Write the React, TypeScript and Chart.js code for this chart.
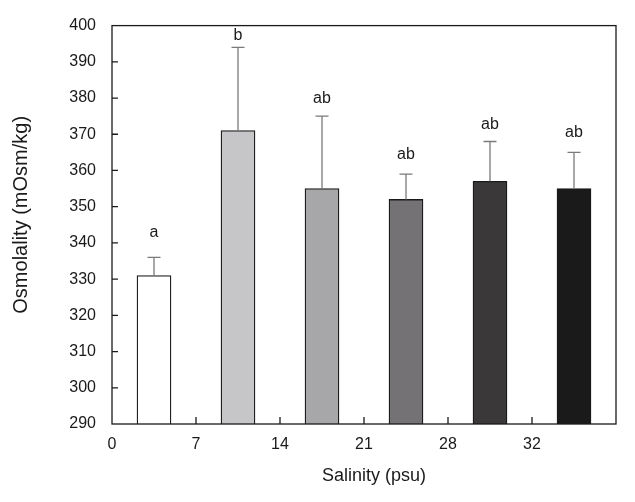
import React, { useEffect, useRef } from "react";
import { Chart, registerables } from "chart.js";

Chart.register(...registerables);

const salinityLabels = ["0", "7", "14", "21", "28", "32"];
const meanOsmolality = [331, 371, 355, 352, 357, 355];
const errorValues = [5, 23, 20, 7, 11, 10];
const letters = ["a", "b", "ab", "ab", "ab", "ab"];
const letterLevels = [341.5, 396, 378.6, 363.1, 371.4, 369.2];
const barColors = ["#ffffff", "#c6c6c8", "#a7a6a9", "#747275", "#3a3839", "#1a1a1a"];

const FONT = "'Liberation Sans', Arial, sans-serif";
const INK = "#1a1a1a";

const decorPlugin = {
  id: "decor",
  afterDatasetsDraw(chart: any) {
    const ctx = chart.ctx;
    const y = chart.scales.y;
    const meta = chart.getDatasetMeta(0);
    ctx.save();
    ctx.strokeStyle = "#7a7a7a";
    ctx.lineWidth = 1.3;
    meta.data.forEach((el: any, i: number) => {
      const top = y.getPixelForValue(meanOsmolality[i] + errorValues[i]);
      ctx.beginPath();
      ctx.moveTo(el.x, el.y);
      ctx.lineTo(el.x, top);
      ctx.moveTo(el.x - 6.5, top);
      ctx.lineTo(el.x + 6.5, top);
      ctx.stroke();
    });
    ctx.fillStyle = INK;
    ctx.font = `16px ${FONT}`;
    ctx.textAlign = "center";
    ctx.textBaseline = "alphabetic";
    meta.data.forEach((el: any, i: number) => {
      ctx.fillText(letters[i], el.x, y.getPixelForValue(letterLevels[i]));
    });
    ctx.restore();
  },
  afterDraw(chart: any) {
    const ctx = chart.ctx;
    const { left, right, top, bottom } = chart.chartArea;
    const xs = chart.scales.x;
    const ys = chart.scales.y;
    ctx.save();
    ctx.strokeStyle = INK;
    ctx.lineWidth = 1.3;
    ctx.strokeRect(left, top, right - left, bottom - top);
    ctx.beginPath();
    ys.ticks.forEach((t: any) => {
      if (t.value <= ys.min || t.value >= ys.max) return;
      const p = ys.getPixelForValue(t.value);
      ctx.moveTo(left, p);
      ctx.lineTo(left + 6, p);
    });
    xs.ticks.forEach((t: any) => {
      if (t.value <= xs.min || t.value >= xs.max) return;
      const p = xs.getPixelForValue(t.value);
      ctx.moveTo(p, bottom);
      ctx.lineTo(p, bottom - 7);
    });
    ctx.stroke();
    ctx.fillStyle = INK;
    ctx.font = `18px ${FONT}`;
    ctx.textAlign = "center";
    ctx.textBaseline = "middle";
    ctx.fillText("Salinity (psu)", (left + right) / 2 + 10, bottom + 52);
    ctx.font = `20px ${FONT}`;
    ctx.translate(21, (top + bottom) / 2 - 10);
    ctx.rotate(-Math.PI / 2);
    ctx.fillText("Osmolality (mOsm/kg)", 0, 0);
    ctx.restore();
  },
};

export default function App() {
  const ref = useRef<HTMLCanvasElement | null>(null);
  useEffect(() => {
    if (!ref.current) return;
    const chart = new Chart(ref.current, {
      type: "bar",
      data: {
        datasets: [
          {
            data: meanOsmolality.map((v, i) => ({ x: i + 0.5, y: v })),
            backgroundColor: barColors,
            borderColor: INK,
            borderWidth: 1.3,
            barThickness: 34,
          },
        ],
      },
      options: {
        responsive: false,
        animation: false,
        layout: { padding: { left: 0, top: 18, right: 19, bottom: 0 } },
        plugins: { legend: { display: false }, tooltip: { enabled: false } },
        scales: {
          x: {
            type: "linear",
            offset: false,
            min: 0,
            max: 6,
            grid: { display: false, drawTicks: false, offset: false },
            border: { display: false },
            ticks: {
              stepSize: 1,
              autoSkip: false,
              maxRotation: 0,
              padding: 11,
              color: INK,
              font: { family: FONT, size: 16 },
              callback: (v: any) => salinityLabels[v] ?? "",
            },
            afterFit: (s: any) => {
              s.height = 78;
            },
          },
          y: {
            min: 290,
            max: 400,
            grid: { display: false, drawTicks: false },
            border: { display: false },
            ticks: {
              stepSize: 10,
              padding: 16,
              color: INK,
              font: { family: FONT, size: 16 },
            },
            afterFit: (s: any) => {
              s.width = 112;
            },
          },
        },
      },
      plugins: [decorPlugin],
    } as any);
    return () => chart.destroy();
  }, []);
  return (
    <div style={{ position: "absolute", left: 0, top: 0, width: 635, height: 502, background: "#fff" }}>
      <canvas ref={ref} width={635} height={502} />
    </div>
  );
}
